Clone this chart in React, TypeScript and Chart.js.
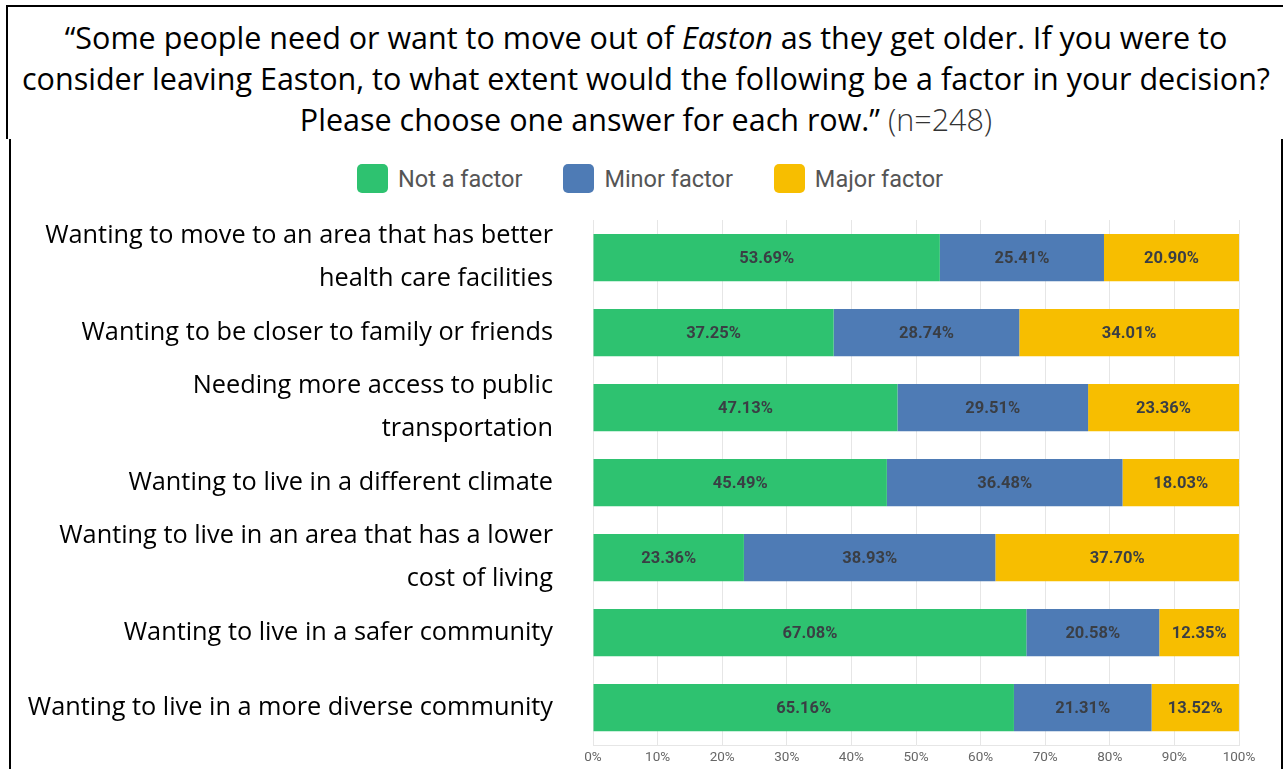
import React, { useEffect, useRef } from 'react';
import { Chart, registerables } from 'chart.js';

Chart.register(...registerables);

const categories: (string | string[])[] = [
  ['Wanting to move to an area that has better', 'health care facilities'],
  'Wanting to be closer to family or friends',
  ['Needing more access to public', 'transportation'],
  'Wanting to live in a different climate',
  ['Wanting to live in an area that has a lower', 'cost of living'],
  'Wanting to live in a safer community',
  'Wanting to live in a more diverse community',
];

const seriesNames = ['Not a factor', 'Minor factor', 'Major factor'];
const notAFactor = [53.69, 37.25, 47.13, 45.49, 23.36, 67.08, 65.16];
const minorFactor = [25.41, 28.74, 29.51, 36.48, 38.93, 20.58, 21.31];
const majorFactor = [20.9, 34.01, 23.36, 18.03, 37.7, 12.35, 13.52];
const seriesColors = ['#2ec270', '#4e7bb5', '#f7be00'];
const tickSuffix = '%';

const valueLabels = {
  id: 'valueLabels',
  afterDatasetsDraw(chart: any) {
    const ctx = chart.ctx;
    ctx.save();
    ctx.font = 'bold 16.5px Roboto';
    ctx.fillStyle = '#3a3e44';
    ctx.textAlign = 'center';
    ctx.textBaseline = 'middle';
    chart.data.datasets.forEach((ds: any, di: number) => {
      const meta = chart.getDatasetMeta(di);
      meta.data.forEach((el: any, i: number) => {
        const p = el.getProps(['x', 'y', 'base'], true);
        ctx.fillText(Number(ds.data[i]).toFixed(2) + '%', (p.x + p.base) / 2, p.y + 1);
      });
    });
    ctx.restore();
  },
};

function BarChart() {
  const ref = useRef<HTMLCanvasElement | null>(null);
  useEffect(() => {
    if (!ref.current) return;
    const seriesData = [notAFactor, minorFactor, majorFactor];
    const chart = new Chart(ref.current, {
      type: 'bar',
      data: {
        labels: categories,
        datasets: seriesNames.map((name, i) => ({
          label: name,
          data: seriesData[i],
          backgroundColor: seriesColors[i],
          borderWidth: 0,
          barPercentage: 0.63,
          categoryPercentage: 1,
        })),
      },
      options: {
        indexAxis: 'y',
        responsive: false,
        animation: false,
        layout: { padding: { left: 0, right: 42, top: 80, bottom: 0 } },
        plugins: {
          legend: { display: false },
          tooltip: { enabled: false },
        },
        scales: {
          x: {
            stacked: true,
            min: 0,
            max: 100,
            ticks: {
              stepSize: 10,
              padding: 5,
              color: '#666',
              font: { family: 'Roboto', size: 13.5 },
              maxRotation: 0,
              callback: (v: any) => v + tickSuffix,
            },
            grid: { color: '#e6e6e6', drawTicks: false },
            border: { display: true, color: '#e6e6e6' },
            afterFit: (s: any) => {
              s.height = 24;
              s.paddingLeft = 0;
              s.paddingRight = 0;
            },
          },
          y: {
            stacked: true,
            ticks: {
              autoSkip: false,
              padding: 40,
              color: '#000',
              font: { family: 'Open Sans', size: 25.3, lineHeight: 1.72 },
            },
            grid: { display: false, drawTicks: false },
            border: { display: false },
            afterFit: (s: any) => {
              s.width = 583;
              s.paddingTop = 0;
              s.paddingBottom = 0;
            },
          },
        },
      },
      plugins: [valueLabels],
    });
    return () => chart.destroy();
  }, []);
  return (
    <canvas
      ref={ref}
      width={1271}
      height={629}
      style={{ position: 'absolute', left: 10, top: 140, width: 1271, height: 629, display: 'block' }}
    />
  );
}

export default function App() {
  return (
    <div style={{ position: 'fixed', left: 0, top: 0, width: 1283, height: 769, overflow: 'hidden', background: '#fff' }}>
      <div style={{ position: 'absolute', left: 6, top: 5, width: 1300, height: 132, borderTop: '2px solid #000', borderLeft: '2px solid #000' }} />
      <div style={{ position: 'absolute', left: 9, top: 139, width: 2, height: 640, background: '#000' }} />
      <div style={{ position: 'absolute', left: 1281, top: 139, width: 2, height: 640, background: '#000' }} />
      <div
        style={{
          position: 'absolute', left: 8, top: 17, width: 1276, textAlign: 'center',
          fontFamily: '"Open Sans", sans-serif', fontSize: 30.5, lineHeight: '41px', color: '#000', whiteSpace: 'nowrap',
        }}
      >
        “Some people need or want to move out of <i>Easton</i> as they get older. If you were to
        <br />
        consider leaving Easton, to what extent would the following be a factor in your decision?
        <br />
        Please choose one answer for each row.” <span style={{ color: '#333', fontWeight: 300 }}>(n=248)</span>
      </div>
      <div style={{ position: 'absolute', left: 357, top: 164, display: 'flex', alignItems: 'center', gap: 41, fontFamily: 'Roboto, sans-serif', fontSize: 23.5, color: '#555' }}>
        {seriesNames.map((name, i) => (
          <div key={name} style={{ display: 'flex', alignItems: 'center' }}>
            <span style={{ display: 'inline-block', width: 31, height: 29, borderRadius: 5, background: seriesColors[i], marginRight: 10 }} />
            <span>{name}</span>
          </div>
        ))}
      </div>
      <BarChart />
    </div>
  );
}
